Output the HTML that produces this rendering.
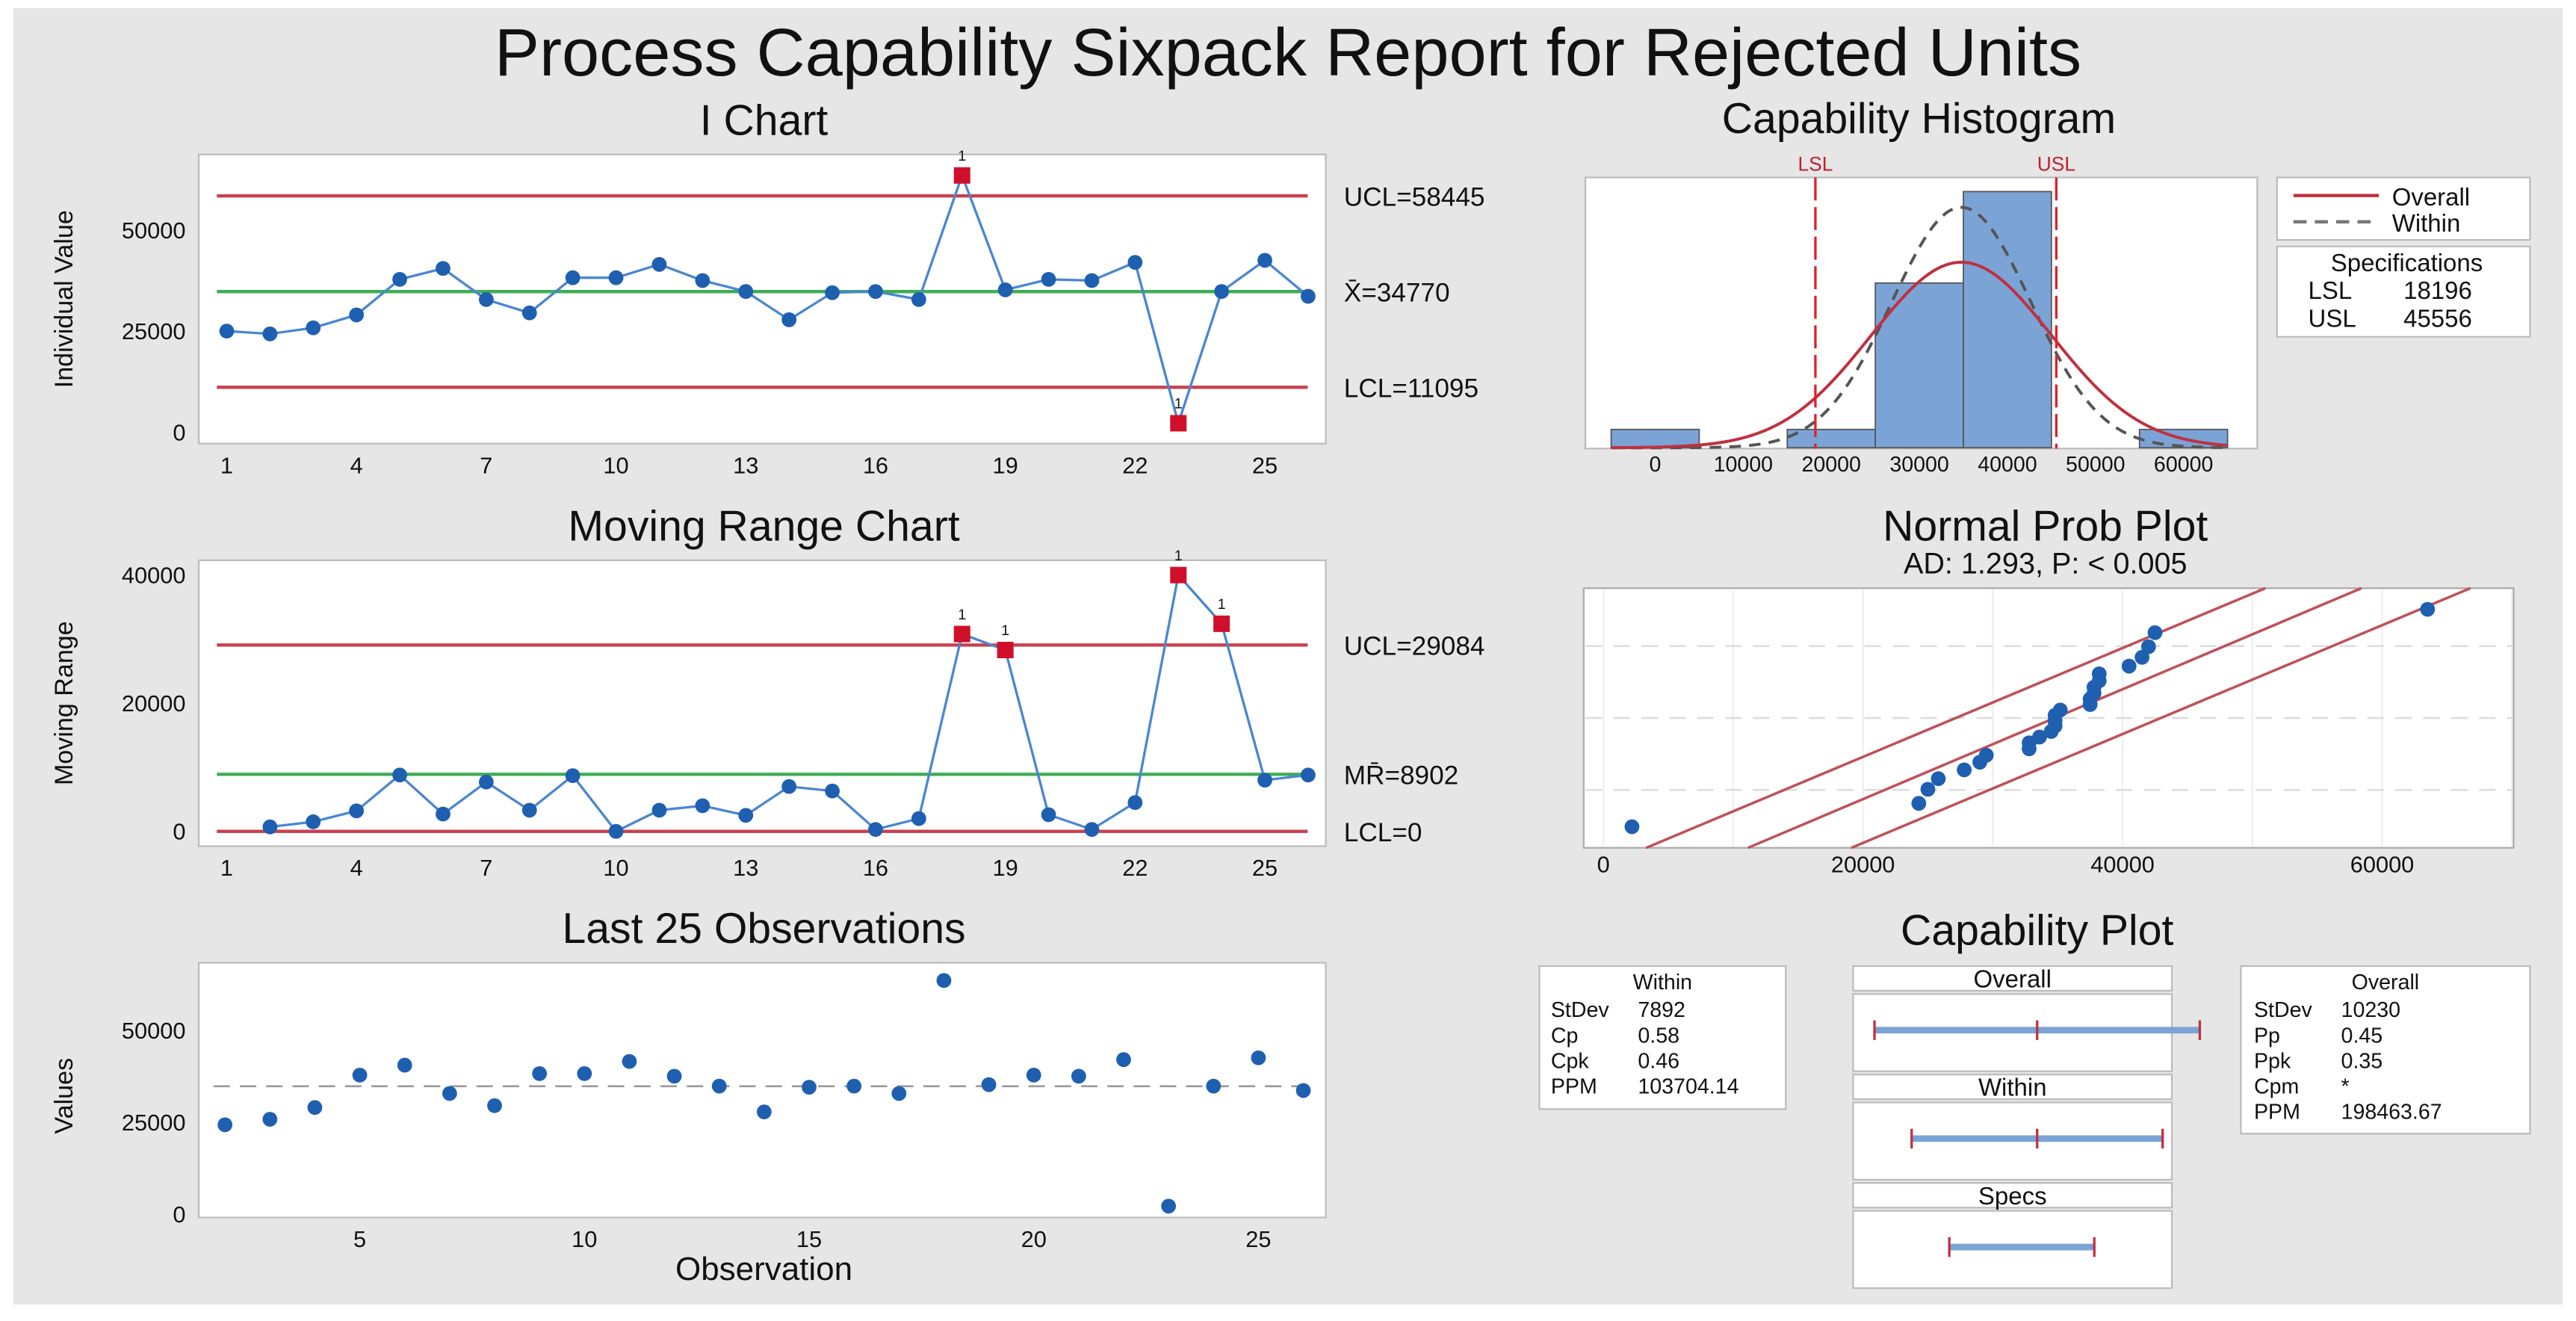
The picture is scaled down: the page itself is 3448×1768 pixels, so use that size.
<!DOCTYPE html>
<html><head><meta charset="utf-8"><style>
html,body{margin:0;padding:0;background:#fff;}
svg{display:block;font-family:"Liberation Sans",sans-serif;}
</style></head><body>
<svg id="s" width="3448" height="1768" viewBox="0 0 1568 804" preserveAspectRatio="none" xmlns="http://www.w3.org/2000/svg">
<rect x="8" y="5" width="1552" height="789" fill="#e6e6e6"/>
<text x="784" y="46" text-anchor="middle" font-size="41" fill="#111">Process Capability Sixpack Report for Rejected Units</text>
</svg>
<script>
// ---- data ----
const obs = [1,2,3,4,5,6,7,8,9,10,11,12,13,14,15,16,17,18,19,20,21,22,23,24,25,26];
const iValues = [25000,24300,25800,29000,37800,40500,32800,29500,38200,38200,41500,37500,34800,27800,34500,34800,32800,63500,35200,37800,37500,42000,2200,34800,42500,33600];
const mrValues = [null,700,1500,3200,8800,2700,7700,3300,8700,0,3300,4000,2500,7000,6300,300,2000,30800,28300,2600,300,4500,40000,32400,8000,8800];
const iLimits = [58445,34770,11095];
const iLimitLabels = ["UCL=58445","X̄=34770","LCL=11095"];
const mrLimits = [29084,8902,0];
const mrLimitLabels = ["UCL=29084","MR̄=8902","LCL=0"];
const iOut = [18,23];
const mrOut = [18,19,23,24];
const obsTicks = [1,4,7,10,13,16,19,22,25];
const iYTicks = [0,25000,50000];
const mrYTicks = [0,20000,40000];
const lastTicks = [5,10,15,20,25];
const lastYTicks = [0,25000,50000];
const histEdges = [-5000,5000,15000,25000,35000,45000,55000,65000];
const histCounts = [1,0,1,9,14,0,1];
const histTicks = [0,10000,20000,30000,40000,50000,60000];
const specs = [18196,45556];
const mean = 34770, sdOverall = 10230, sdWithin = 7892;
const probTicks = [0,20000,40000,60000];
const ciLeft = [[-2.31,3290],[2.31,51000]];
const ciRight = [[-2.31,19100],[2.31,66800]];

const S = document.getElementById('s');
const NS = 'http://www.w3.org/2000/svg';
function el(tag, a, parent){const e=document.createElementNS(NS,tag);for(const k in a)e.setAttribute(k,a[k]);(parent||S).appendChild(e);return e;}
function txt(x,y,t,size,anchor,extra){const e=el('text',Object.assign({x:x,y:y,'font-size':size,'text-anchor':anchor||'middle',fill:'#111'},extra||{}));e.textContent=t;return e;}
const BLUE='#1f5fb0', LINE='#4a86d0', RED='#d0102a', CL='#c8404e', GREEN='#3fae55';
const TITLE=26;

// ---- control chart helper ----
function ctrl(name, title, top, bottom, ymax, yPix0, yPixMax, vals, limits, labels, outs, yTicks, ylab){
  txt(465, top-12, title, TITLE, 'middle');
  const box = el('rect',{x:121,y:top,width:686,height:bottom-top,fill:'#fff',stroke:'#bbb'});
  
  
  const X = i => 138 + (i-1)*26.33;
  const Y = v => yPix0 - v/ymax*(yPix0-yPixMax);
  limits.forEach((v,k)=>{
    const l = el('line',{x1:132,x2:796,y1:Y(v),y2:Y(v),stroke:k==1?GREEN:CL,'stroke-width':2});
    
    
    const t = txt(818, Y(v)+6, labels[k], 16, 'start');
    
    
  });
  let d='';
  vals.forEach((v,i)=>{ if(v===null) return; d += (d?'L':'M')+X(obs[i])+','+Y(v); });
  const p = el('path',{d:d,fill:'none',stroke:LINE,'stroke-width':1.5});
  
  
  vals.forEach((v,i)=>{
    if(v===null) return;
    const o = obs[i];
    let m;
    if(outs.indexOf(o)>=0){
      m = el('rect',{x:X(o)-5,y:Y(v)-5,width:10,height:10,fill:RED});
      const f = txt(X(o), Y(v)-9, '1', 9, 'middle');
      
      
    } else {
      m = el('circle',{cx:X(o),cy:Y(v),r:4.5,fill:BLUE});
    }
    
    
  });
  obsTicks.forEach(o=>{
    const t = txt(X(o), bottom+18, String(o), 14, 'middle');
    
    
  });
  yTicks.forEach(v=>{
    const t = txt(113, Y(v)+5, String(v), 14, 'end');
    
    
  });
  const yl = txt(0,0,ylab,15.5,'middle',{transform:'translate(44,'+((top+bottom)/2)+') rotate(-90)'});
  
  
}
ctrl('i-chart','I Chart',94,270,50000,263,140,iValues,iLimits,iLimitLabels,iOut,iYTicks,'Individual Value');
ctrl('mr-chart','Moving Range Chart',341,515,40000,506,350,mrValues,mrLimits,mrLimitLabels,mrOut,mrYTicks,'Moving Range');

// ---- last 25 ----
(function(){
  txt(465,574,'Last 25 Observations',TITLE);
  const b = el('rect',{x:121,y:586,width:686,height:155,fill:'#fff',stroke:'#bbb'});
  
  
  const X = o => 219 + (o-5)*27.35;
  const Y = v => 739 - v/50000*112;
  const ml = el('line',{x1:130,x2:800,y1:Y(mean),y2:Y(mean),stroke:'#999','stroke-dasharray':'10,6','stroke-width':1.2});
  
  
  for(let i=1;i<obs.length;i++){
    const c = el('circle',{cx:X(obs[i]),cy:Y(iValues[i]),r:4.5,fill:BLUE});
    
    
  }
  lastTicks.forEach(o=>{const t=txt(X(o),759,String(o),14);});
  lastYTicks.forEach(v=>{const t=txt(113,Y(v)+5,String(v),14,'end');});
  const xl = txt(465,779,'Observation',20);
  
  
  const yl = txt(0,0,'Values',15.5,'middle',{transform:'translate(44,667) rotate(-90)'});
  
  
})();

// ---- histogram ----
(function(){
  txt(1168,81,'Capability Histogram',TITLE);
  const b = el('rect',{x:965,y:108,width:409,height:165,fill:'#fff',stroke:'#bbb'});
  
  
  const X = v => 1007.5 + v*0.00536;
  const base = 272.5, perCount = (272.5-116.6)/14;
  histCounts.forEach((c,i)=>{
    if(!c) return;
    const r = el('rect',{x:X(histEdges[i]),y:base-c*perCount,width:X(histEdges[i+1])-X(histEdges[i]),height:c*perCount,fill:'#7ba3d6',stroke:'#555','stroke-width':0.8});
    
    
  });
  const N = histCounts.reduce((a,b)=>a+b,0), bw = 10000;
  function curve(sd, attrs, nm){
    let d='';
    for(let v=-5000; v<=65000; v+=500){
      const pdf = Math.exp(-0.5*Math.pow((v-mean)/sd,2))/(sd*Math.sqrt(2*Math.PI));
      d += (d?'L':'M')+X(v)+','+(base - N*bw*pdf*perCount);
    }
    const p = el('path',Object.assign({d:d,fill:'none'},attrs));
    
    
  }
  curve(sdWithin,{stroke:'#555','stroke-width':1.8,'stroke-dasharray':'7,5'},'within-curve');
  curve(sdOverall,{stroke:'#c0303f','stroke-width':1.8},'overall-curve');
  ['LSL','USL'].forEach((n,k)=>{
    const l = el('line',{x1:X(specs[k]),x2:X(specs[k]),y1:108,y2:273,stroke:'#e0202a','stroke-width':1.5,'stroke-dasharray':'14,4'});
    
    
    const t = txt(X(specs[k]),104,n,12,'middle',{fill:'#c0202a'});
    
    
  });
  histTicks.forEach(v=>{const t=txt(X(v),287,String(v),13);});
  // legend
  const lg = el('rect',{x:1386,y:108,width:154,height:38,fill:'#fff',stroke:'#bbb'});
  
  
  const l1 = el('line',{x1:1396,x2:1448,y1:119,y2:119,stroke:'#c0303f','stroke-width':2});
  
  
  const t1 = txt(1456,125,'Overall',15,'start');
  
  
  const l2 = el('line',{x1:1396,x2:1448,y1:135,y2:135,stroke:'#777','stroke-width':2,'stroke-dasharray':'8,5'});
  
  
  const t2 = txt(1456,141,'Within',15,'start');
  
  
  const sp = el('rect',{x:1386,y:150,width:154,height:55,fill:'#fff',stroke:'#bbb'});
  
  
  txt(1465,165,'Specifications',15);
  txt(1405,182,'LSL',15,'start');
  txt(1463,182,String(specs[0]),15,'start');
  txt(1405,199,'USL',15,'start');
  txt(1463,199,String(specs[1]),15,'start');
})();

// ---- normal prob plot ----
(function(){
  txt(1245,329,'Normal Prob Plot',TITLE);
  txt(1245,349,'AD: 1.293, P: < 0.005',18);
  const b = el('rect',{x:964,y:358,width:566,height:158,fill:'#fff',stroke:'#aaa'});
  
  
  const X = v => 976 + v*0.0079;
  const Y = z => 437 - z*34.2;
  for(let v=0; v<=70000; v+=10000){
    const g = el('line',{x1:X(v),x2:X(v),y1:359,y2:515,stroke:'#eee','stroke-width':1});
    
    
  }
  [-1.28,0,1.28].forEach(z=>{
    const g = el('line',{x1:965,x2:1529,y1:Y(z),y2:Y(z),stroke:'#ddd','stroke-width':1.2,'stroke-dasharray':'10,7'});
    
    
  });
  function ln(pts,nm){
    const l = el('line',{x1:X(pts[0][1]),y1:Y(pts[0][0]),x2:X(pts[1][1]),y2:Y(pts[1][0]),stroke:'#c0505a','stroke-width':1.6});
    
    
  }
  ln([[-2.31,mean-2.31*sdOverall],[2.31,mean+2.31*sdOverall]],'fit-line');
  ln(ciLeft,'ci-upper-line');
  ln(ciRight,'ci-lower-line');
  function invN(p){ // Acklam approximation
    const a=[-39.6968302866538,220.946098424521,-275.928510446969,138.357751867269,-30.6647980661472,2.50662827745924];
    const bb=[-54.4760987982241,161.585836858041,-155.698979859887,66.8013118877197,-13.2806815528857];
    const c=[-0.00778489400243029,-0.322396458041136,-2.40075827716184,-2.54973253934373,4.37466414146497,2.93816398269878];
    const dd=[0.00778469570904146,0.32246712907004,2.445134137143,3.75440866190742];
    if(p<0.02425){const q=Math.sqrt(-2*Math.log(p));return (((((c[0]*q+c[1])*q+c[2])*q+c[3])*q+c[4])*q+c[5])/((((dd[0]*q+dd[1])*q+dd[2])*q+dd[3])*q+1);}
    if(p>1-0.02425){const q=Math.sqrt(-2*Math.log(1-p));return -(((((c[0]*q+c[1])*q+c[2])*q+c[3])*q+c[4])*q+c[5])/((((dd[0]*q+dd[1])*q+dd[2])*q+dd[3])*q+1);}
    const q=p-0.5,r=q*q;return (((((a[0]*r+a[1])*r+a[2])*r+a[3])*r+a[4])*r+a[5])*q/(((((bb[0]*r+bb[1])*r+bb[2])*r+bb[3])*r+bb[4])*r+1);
  }
  const sorted = iValues.slice().sort((a,b)=>a-b);
  const n = sorted.length;
  sorted.forEach((v,i)=>{
    const z = invN((i+1-0.3)/(n+0.4));
    const c = el('circle',{cx:X(v),cy:Y(z),r:4.5,fill:BLUE});
    
    
  });
  probTicks.forEach(v=>{const t=txt(X(v),531,String(v),14);});
})();

// ---- capability plot ----
(function(){
  txt(1240,575,'Capability Plot',TITLE);
  const wb = el('rect',{x:937,y:588,width:150,height:87,fill:'#fff',stroke:'#bbb'});
  
  
  txt(1012,602,'Within',13);
  const wRows=[['StDev','7892'],['Cp','0.58'],['Cpk','0.46'],['PPM','103704.14']];
  wRows.forEach((r,k)=>{
    txt(944,619+k*15.5,r[0],13,'start');
    txt(997,619+k*15.5,r[1],13,'start');
  });
  const ob = el('rect',{x:1364,y:588,width:176,height:102,fill:'#fff',stroke:'#bbb'});
  
  
  txt(1452,602,'Overall',13);
  const oRows=[['StDev','10230'],['Pp','0.45'],['Ppk','0.35'],['Cpm','*'],['PPM','198463.67']];
  oRows.forEach((r,k)=>{
    txt(1372,619+k*15.5,r[0],13,'start');
    txt(1425,619+k*15.5,r[1],13,'start');
  });
  const X = v => 1240 + (v-mean)*0.003226;
  const panels = [['Overall',588,mean-3*sdOverall,mean+3*sdOverall,true],['Within',654,mean-3*sdWithin,mean+3*sdWithin,true],['Specs',720,specs[0],specs[1],false]];
  panels.forEach(p=>{
    const nm = p[0].toLowerCase();
    const h = el('rect',{x:1128,y:p[1],width:194,height:15,fill:'#fff',stroke:'#bbb'});
    
    
    txt(1225,p[1]+13,p[0],15);
    const body = el('rect',{x:1128,y:p[1]+17,width:194,height:47,fill:'#fff',stroke:'#bbb'});
    
    
    const cy = p[1]+39;
    const bar = el('line',{x1:X(p[2]),x2:X(p[3]),y1:cy,y2:cy,stroke:'#7ba3d6','stroke-width':4});
    
    
    const ticks = p[4]?[p[2],mean,p[3]]:[p[2],p[3]];
    ticks.forEach(v=>{
      const t = el('line',{x1:X(v),x2:X(v),y1:cy-6,y2:cy+6,stroke:'#c0303f','stroke-width':1.5});
      
      
    });
  });
})();
</script>
</body></html>
